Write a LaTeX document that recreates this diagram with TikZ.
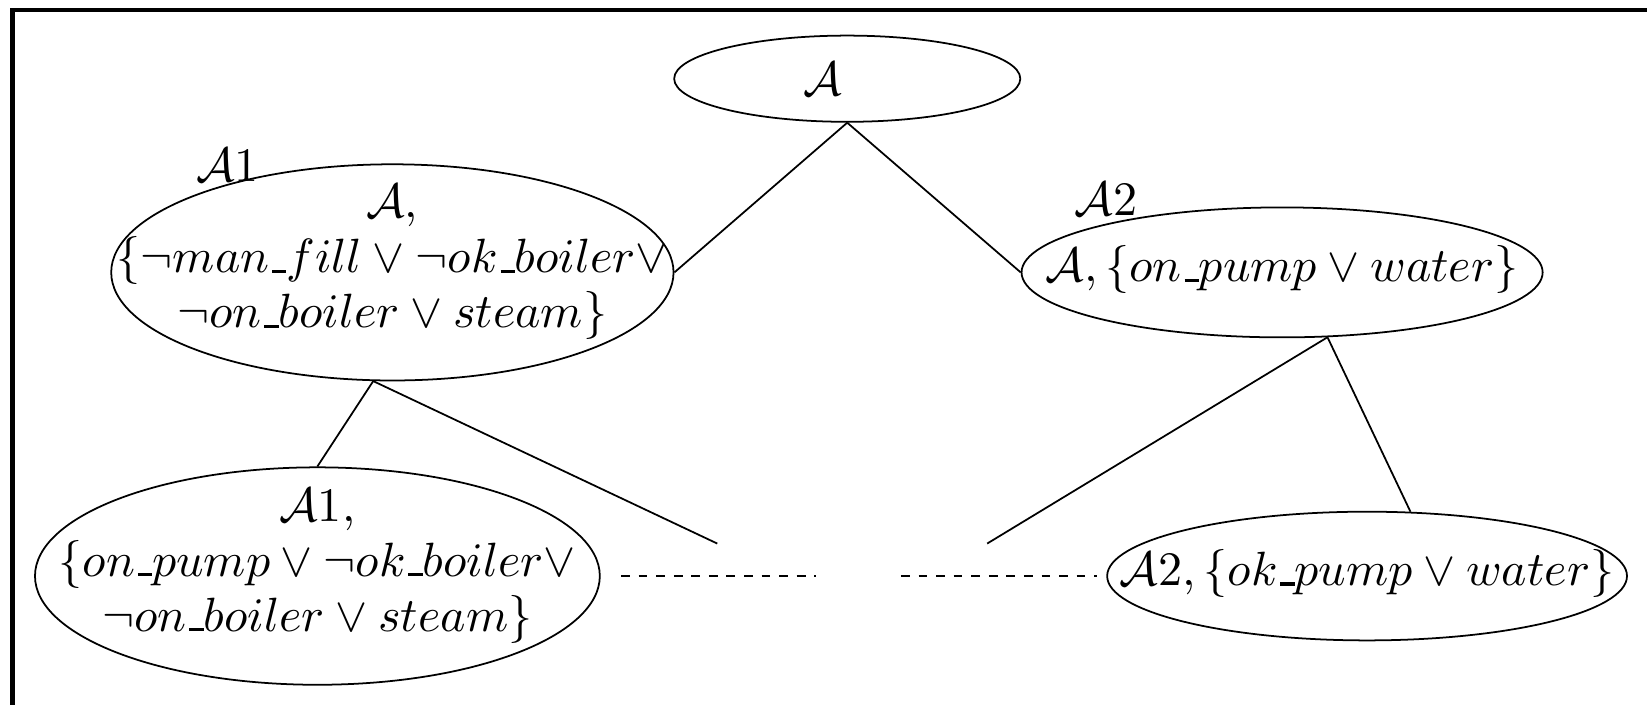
\documentclass[tikz,border=0pt]{standalone}
\usepackage{amsmath}
\usepackage{amssymb}
\usetikzlibrary{shapes.geometric}
\newcommand{\us}{\kern.06em\vbox{\hrule width.3em height.7pt}}

\begin{document}
\begin{tikzpicture}[arg/.style={draw, ellipse, inner sep=0pt},
  argtext/.style={align=center, inner sep=0pt, font=\fontsize{10.8}{12.5}\selectfont}]
\useasboundingbox (0,0) rectangle (13.18,5.64);
\draw[line width=1pt] (13.18,5.56) -- (0.1,5.56) -- (0.1,0);

\node[arg, minimum width=2.77cm, minimum height=0.69cm] (A) at (6.78,5.01) {};
\node[arg, minimum width=4.50cm, minimum height=1.73cm] (A1) at (3.14,3.46) {};
\node[arg, minimum width=4.17cm, minimum height=1.04cm] (A2) at (10.26,3.46) {};
\node[arg, minimum width=4.52cm, minimum height=1.74cm] (B1) at (2.54,1.03) {};
\node[arg, minimum width=4.16cm, minimum height=1.03cm] (B2) at (10.94,1.03) {};

\node[argtext, xshift=-0.2cm] (At) at (A) {$\mathcal{A}$};
\node[argtext, yshift=0.08cm] (A1t) at (A1) {$\mathcal{A}$,\\ $\{\neg man\us fill \vee \neg ok\us boiler \vee$\\ $\neg on\us boiler \vee steam\}$};
\node[argtext, yshift=0.02cm] (A2t) at (A2) {$\mathcal{A}, \{on\us pump \vee water\}$};
\node[argtext, yshift=0.08cm] (B1t) at (B1) {$\mathcal{A}1$,\\ $\{on\us pump \vee \neg ok\us boiler \vee$\\ $\neg on\us boiler \vee steam\}$};
\node[argtext, yshift=0.02cm] (B2t) at (B2) {$\mathcal{A}2, \{ok\us pump \vee water\}$};

\node[argtext] (L1) at (1.82,4.32) {$\mathcal{A}1$};
\node[argtext] (L2) at (8.85,4.05) {$\mathcal{A}2$};

\coordinate (e1) at (5.74,1.29);
\coordinate (e2) at (7.90,1.29);
\coordinate (d1) at (4.97,1.03);
\coordinate (d2) at (6.53,1.03);
\coordinate (d3) at (7.21,1.03);
\coordinate (d4) at (8.78,1.03);

\draw (A.south)--(A1.east);
\draw (A.south)--(A2.west);
\draw (A1.260)--(B1.north);
\draw (A1.260)--(e1);
\draw (A2.305)--(e2);
\draw (A2.305)--(B2.56);

\draw[dash pattern=on 2pt off 2pt] (d1)--(d2);
\draw[dash pattern=on 2pt off 2pt] (d3)--(d4);
\end{tikzpicture}
\end{document}
